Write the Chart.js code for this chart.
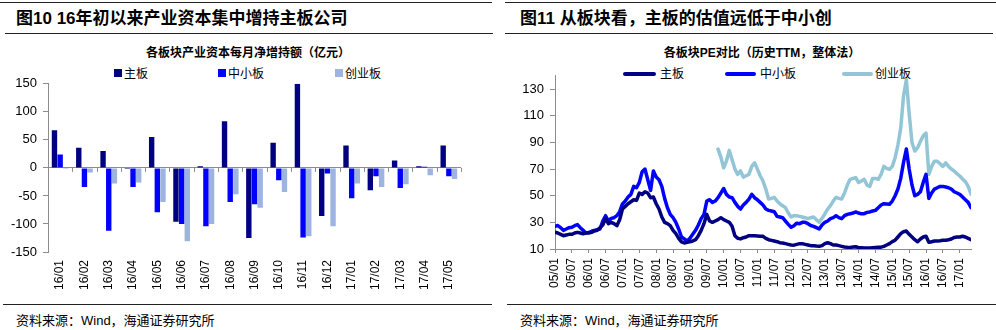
<!DOCTYPE html>
<html>
<head>
<meta charset="utf-8">
<script src="https://cdn.jsdelivr.net/npm/chart.js@4"></script>
<style>
  body { margin: 0; width: 996px; height: 330px; background: #fff; position: relative; overflow: hidden;
         font-family: 'Liberation Sans', Arial, 'Noto Sans CJK SC', sans-serif; color: #000; }
  .rule { position: absolute; height: 1px; background: #222; }
  .fig-title { position: absolute; top: 10px; font-size: 17px; font-weight: bold; line-height: 18px; white-space: nowrap;
               font-family: 'Liberation Sans', Arial, 'Noto Sans CJK SC', sans-serif; }
  .chart-title { position: absolute; top: 46px; font-size: 12px; font-weight: bold; line-height: 14px; text-align: center; white-space: nowrap;
                 font-family: 'Liberation Sans', Arial, 'Noto Sans CJK SC', sans-serif; }
  .leg { position: absolute; font-size: 12px; line-height: 14px; white-space: nowrap; font-family: 'Noto Sans CJK SC', sans-serif; }
  .box { position: absolute; width: 8px; height: 8px; }
  .ln { position: absolute; height: 4px; border-radius: 2px; }
  .source { position: absolute; top: 313px; font-size: 13px; line-height: 16px; white-space: nowrap;
            font-family: 'Liberation Sans', Arial, 'Noto Sans CJK SC', sans-serif; }
  .wrap { position: absolute; }
</style>
</head>
<body>
<div class="rule" style="left:0;width:492px;top:2px"></div>
<div class="rule" style="left:5px;width:488px;top:33px"></div>
<div class="fig-title" style="left:16px">图10 16年初以来产业资本集中增持主板公司</div>
<div class="chart-title" style="left:98px;width:300px">各板块产业资本每月净增持额（亿元）</div>
<div class="box" style="left:114px;top:69px;background:#000080"></div><div class="leg" style="left:124px;top:66px">主板</div>
<div class="box" style="left:218px;top:69px;background:#0000FF"></div><div class="leg" style="left:228px;top:66px">中小板</div>
<div class="box" style="left:335px;top:69px;background:#9DB3E0"></div><div class="leg" style="left:345px;top:66px">创业板</div>
<div class="wrap" style="left:0;top:70px;width:495px;height:232px"><canvas id="barChart"></canvas></div>
<div class="rule" style="left:3px;width:489px;top:304px"></div>
<div class="source" style="left:16px">资料来源：Wind，海通证券研究所</div>

<div class="rule" style="left:505px;width:491px;top:2px"></div>
<div class="rule" style="left:505px;width:488px;top:33px"></div>
<div class="fig-title" style="left:520px">图11 从板块看，主板的估值远低于中小创</div>
<div class="chart-title" style="left:612px;width:300px">各板块PE对比（历史TTM，整体法）</div>
<div class="ln" style="left:623px;top:72px;width:33px;background:#000080"></div><div class="leg" style="left:660px;top:66px">主板</div>
<div class="ln" style="left:725px;top:72px;width:31px;background:#0000FF"></div><div class="leg" style="left:760px;top:66px">中小板</div>
<div class="ln" style="left:842px;top:72px;width:31px;background:#92C5D6"></div><div class="leg" style="left:875px;top:66px">创业板</div>
<div class="wrap" style="left:505px;top:62px;width:491px;height:240px"><canvas id="lineChart"></canvas></div>
<div class="rule" style="left:507px;width:489px;top:304px"></div>
<div class="source" style="left:520px">资料来源：Wind，海通证券研究所</div>

<script>
// ---- left chart: monthly net increase by board (亿元) ----
const months = ['16/01','16/02','16/03','16/04','16/05','16/06','16/07','16/08','16/09',
                '16/10','16/11','16/12','17/01','17/02','17/03','17/04','17/05'];
const mainNet = [67, 36, 30, -2, 55, -96, 3, 83, -125, 45, 150, -86, 40, -40, 13, 3, 40];
const smeNet  = [24, -34, -112, -34, -79, -100, -104, -61, -65, -22, -124, -10, -54, -15, -36, 2, -15];
const gemNet  = [-2, -8, -28, -26, -61, -131, -100, -47, -71, -43, -122, -104, -28, -34, -29, -13, -20];
const netTicks = [-150, -100, -50, 0, 50, 100, 150];

// ---- right chart: PE (TTM) monthly from 2005/01 ----
const peTickLabels = ['05/01','05/07','06/01','06/07','07/01','07/07','08/01','08/07','09/01','09/07',
                      '10/01','10/07','11/01','11/07','12/01','12/07','13/01','13/07','14/01','14/07',
                      '15/01','15/07','16/01','16/07','17/01'];
const peTicks = [10, 30, 50, 70, 90, 110, 130];
const mainPE = [
  22.7,22,21,20,20.5,21,21,22,22.5,22,
  21.5,22,22,22.5,23.5,24,26,28,33,29,
  30,29,27.5,32,40,42,44,45.5,47,46.5,
  52,51,53,52,48.5,49,44,40,34,30,
  29,27.5,24,21.5,18,15.4,14.5,15,15.4,16,
  17,20,24,29,36,31,30,31,32,33.5,
  32,31,30,27,20,18,17.6,18.5,19,20,
  20,20,19.8,19.6,19.5,18,17,16.5,16,15.5,
  14.7,14.5,14,13.5,13,12.9,13.5,14,14,13.5,
  13,12.5,12.5,12.2,12,12.5,14,14.7,14,13,
  13,12.5,12,11.5,11.3,11.2,11.5,11.7,11,11,
  10.8,10.7,10.8,11,11.2,11.4,11.4,12,13,14,
  15.5,16.6,19,21.5,23,23.5,21,19,17,15.4,
  17.5,19,19.6,15,15.5,16,16,16.2,16.5,16.6,
  17,17.5,18.6,19,19,19.6,19,18,17
];
const smePE = [
  27,27.6,26,24,25,26,26.3,27.5,28.3,26,
  24,22,22.5,23.3,24,24.5,25,31,35,31,
  33,33.5,35,38,43.8,46,49,51,57,56,
  60,68,70,62,54,68.6,64,62,57,48,
  41,36,33.5,30,25,19,17.6,16,18,21,
  24,28,32.8,36,46,47,45,46,48.5,52,
  55.4,51,49,48.5,45,42,40,43,45,47.4,
  51,48.5,47,45,43,40,39,38.5,38,34.5,
  34,33.5,31,28.5,26.3,27.5,29.4,29,30,30,
  29,27.6,27,26,25,28,30,31,32.8,33.5,
  35,33.5,32.8,35,36,36.4,37,37.8,37,36.4,
  36.5,37.5,37.8,38.5,39,41,43,44,43.8,43.6,
  46,50,55,63,75,85,70,58,50,51,
  53,60,66,48,52,55,56,57,57,56.5,
  56,55,53,52,51,49,47,45,41
];
const gemStart = 58; // 2009/11
const gemPE = [
  85,79,71,76,84,77,70,66,68.6,64,
  65,66,72,74.7,70,65,61,55,47.5,48,
  48.8,46,44,42.5,41,37,34,35,35,34.5,
  34,33.5,32.8,33.5,34,32,30,33,36.4,40,
  42.5,46,48.8,48,47.5,52,58,62.3,63,63.6,
  59.9,61,62.3,58,57,63,63,62.3,66,72,
  70.5,69.8,72,78.5,88,100.7,125,137,111.7,90,
  83.5,86,90.8,95,97,66,72,75.9,75.9,74,
  72,74.7,72,70,68.6,66.5,64.8,62.5,60.5,57,
  51.2
];

Chart.defaults.font.family = "'Liberation Sans', Arial, sans-serif";
Chart.defaults.color = '#000';
const axisGray = '#8c8c8c';

// small tick marks on the zero line between categories
const zeroTicks = {
  id: 'zeroTicks',
  afterDatasetsDraw(chart) {
    const xs = chart.scales.x, ys = chart.scales.y, ctx = chart.ctx;
    const y0 = ys.getPixelForValue(0);
    const n = xs.ticks.length, w = (xs.right - xs.left) / n;
    ctx.save();
    ctx.strokeStyle = axisGray; ctx.lineWidth = 1;
    ctx.beginPath();
    for (let i = 0; i <= n; i++) {
      const px = Math.round(xs.left + i * w) + 0.5;
      ctx.moveTo(px, y0); ctx.lineTo(px, y0 + 4);
    }
    ctx.stroke();
    ctx.restore();
  }
};

new Chart(document.getElementById('barChart'), {
  type: 'bar',
  data: {
    labels: months,
    datasets: [
      { label: '主板', data: mainNet, backgroundColor: '#000080' },
      { label: '中小板', data: smeNet, backgroundColor: '#0000FF' },
      { label: '创业板', data: gemNet, backgroundColor: '#9DB3E0' }
    ]
  },
  options: {
    responsive: true, maintainAspectRatio: false, animation: false,
    categoryPercentage: 0.7, barPercentage: 0.95,
    layout: { padding: { left: 0, right: 34, top: 10, bottom: 0 } },
    plugins: { legend: { display: false }, tooltip: { enabled: false } },
    scales: {
      x: {
        grid: { display: false, drawTicks: false },
        border: { display: false },
        ticks: { font: { size: 12 }, minRotation: 90, maxRotation: 90, autoSkip: false, padding: 8 },
        afterFit: s => { s.height = 50; }
      },
      y: {
        min: -150, max: 150,
        afterBuildTicks: s => { s.ticks = netTicks.map(v => ({ value: v })); },
        grid: {
          color: c => (c.tick && c.tick.value === 0 ? axisGray : 'rgba(0,0,0,0)'),
          tickColor: axisGray, tickLength: 5
        },
        border: { display: true, color: axisGray },
        ticks: { font: { size: 13 }, padding: 6 },
        afterFit: s => { s.width = 48; }
      }
    }
  },
  plugins: [zeroTicks]
});

new Chart(document.getElementById('lineChart'), {
  type: 'line',
  data: {
    datasets: [
      { label: '主板', data: mainPE.map((v, i) => ({ x: i, y: v })), borderColor: '#000080' },
      { label: '中小板', data: smePE.map((v, i) => ({ x: i, y: v })), borderColor: '#0000FF' },
      { label: '创业板', data: gemPE.map((v, i) => ({ x: i + gemStart, y: v })), borderColor: '#92C5D6' }
    ]
  },
  options: {
    responsive: true, maintainAspectRatio: false, animation: false,
    elements: { point: { radius: 0 }, line: { borderWidth: 3.5, tension: 0, borderJoinStyle: 'round', borderCapStyle: 'round' } },
    layout: { padding: { left: 0, right: 25, top: 11, bottom: 0 } },
    plugins: { legend: { display: false }, tooltip: { enabled: false } },
    scales: {
      x: {
        type: 'linear', min: 0, max: mainPE.length - 1,
        afterBuildTicks: s => { s.ticks = peTickLabels.map((t, i) => ({ value: i * 6 })); },
        grid: { drawOnChartArea: false, tickColor: axisGray, tickLength: 4 },
        border: { display: true, color: axisGray },
        ticks: { font: { size: 12 }, minRotation: 90, maxRotation: 90, autoSkip: false, padding: 5,
                 callback: v => peTickLabels[v / 6] },
        afterFit: s => { s.height = 53; }
      },
      y: {
        min: 10, max: 140,
        afterBuildTicks: s => { s.ticks = peTicks.map(v => ({ value: v })); },
        grid: { drawOnChartArea: false, tickColor: axisGray, tickLength: 5 },
        border: { display: true, color: axisGray },
        ticks: { font: { size: 13 }, padding: 6 },
        afterFit: s => { s.width = 50; }
      }
    }
  }
});
</script>
</body>
</html>
